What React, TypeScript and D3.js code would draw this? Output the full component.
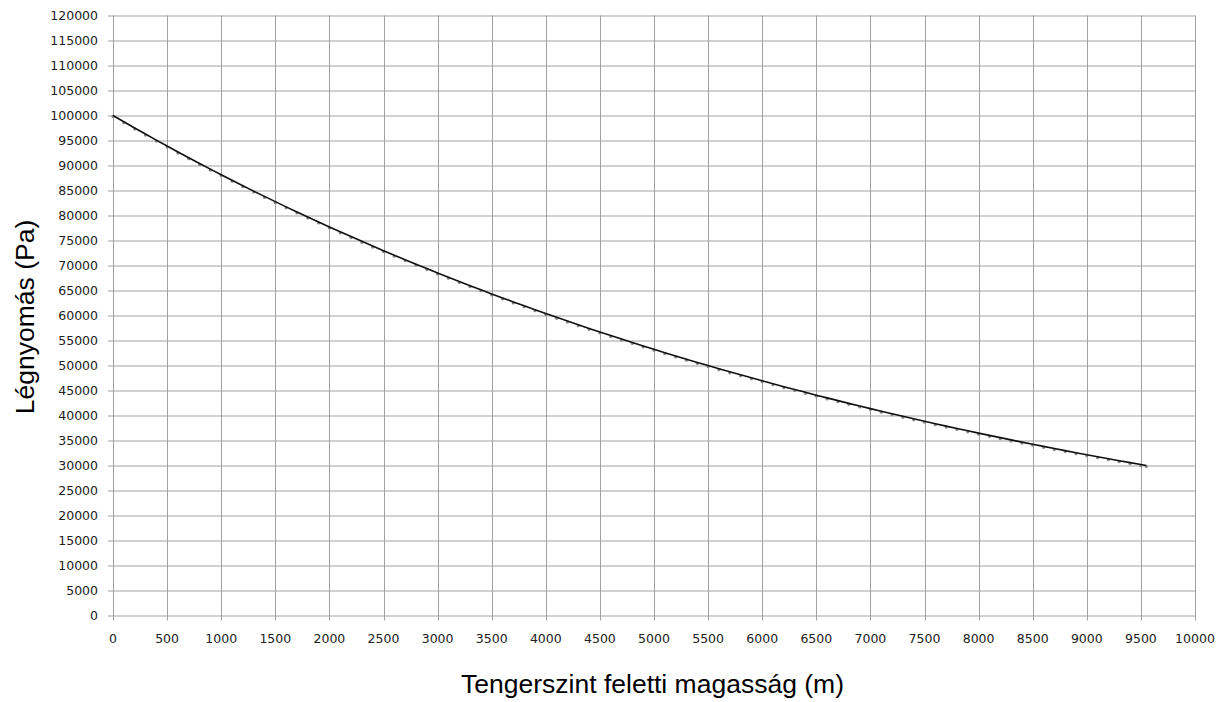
import React from 'react';
import * as d3 from 'd3';

// altitude above sea level (m) and air pressure (Pa)
const altitudes = [
  0, 100, 200, 300, 400, 500, 600, 700, 800, 900,
  1000, 1100, 1200, 1300, 1400, 1500, 1600, 1700, 1800, 1900,
  2000, 2100, 2200, 2300, 2400, 2500, 2600, 2700, 2800, 2900,
  3000, 3100, 3200, 3300, 3400, 3500, 3600, 3700, 3800, 3900,
  4000, 4100, 4200, 4300, 4400, 4500, 4600, 4700, 4800, 4900,
  5000, 5100, 5200, 5300, 5400, 5500, 5600, 5700, 5800, 5900,
  6000, 6100, 6200, 6300, 6400, 6500, 6600, 6700, 6800, 6900,
  7000, 7100, 7200, 7300, 7400, 7500, 7600, 7700, 7800, 7900,
  8000, 8100, 8200, 8300, 8400, 8500, 8600, 8700, 8800, 8900,
  9000, 9100, 9200, 9300, 9400, 9500, 9550,
];

const pressures = [
  100000, 98750, 97510, 96290, 95080, 93890, 92710, 91550, 90410, 89270,
  88160, 87050, 85960, 84880, 83820, 82770, 81730, 80710, 79700, 78700,
  77710, 76740, 75780, 74830, 73890, 72960, 72050, 71150, 70260, 69380,
  68510, 67650, 66800, 65970, 65140, 64320, 63520, 62720, 61940, 61160,
  60390, 59640, 58890, 58150, 57420, 56700, 55990, 55290, 54600, 53920,
  53240, 52570, 51910, 51260, 50620, 49990, 49360, 48740, 48130, 47530,
  46940, 46350, 45770, 45190, 44630, 44070, 43520, 42970, 42430, 41900,
  41380, 40860, 40350, 39840, 39340, 38850, 38360, 37880, 37410, 36940,
  36470, 36020, 35570, 35120, 34680, 34250, 33820, 33390, 32980, 32560,
  32150, 31750, 31350, 30960, 30570, 30190, 30000,
];

const xTicks = d3.range(0, 10001, 500);
const yTicks = d3.range(0, 120001, 5000);

const xTitle = 'Tengerszint feletti magasság (m)';
const yTitle = 'Légnyomás (Pa)';

const W = 1225;
const H = 702;
const margin = { top: 15.5, right: 30, bottom: 86.5, left: 113 };

export default function App() {
  const innerW = W - margin.left - margin.right;
  const innerH = H - margin.top - margin.bottom;

  const x = d3.scaleLinear().domain([0, 10000]).range([0, innerW]);
  const y = d3.scaleLinear().domain([0, 120000]).range([innerH, 0]);

  const points = altitudes.map((a, i) => [a, pressures[i]] as [number, number]);
  const line = d3.line<[number, number]>()
    .x(d => x(d[0]))
    .y(d => y(d[1]));

  const gridColor = '#a0a0a0';
  const tickFont = "'DejaVu Sans', Verdana, sans-serif";
  const titleFont = "'Liberation Sans', Arial, sans-serif";

  return (
    <svg width={W} height={H} style={{ position: 'absolute', left: 0, top: 0, background: '#fff' }}>
      <g transform={`translate(${margin.left},${margin.top})`}>
        {/* horizontal grid + y ticks */}
        {yTicks.map(t => (
          <g key={'y' + t}>
            <line x1={-5} x2={innerW} y1={Math.round(y(t)) + 0.5} y2={Math.round(y(t)) + 0.5}
              stroke={gridColor} strokeWidth={1} />
            <text x={-15} y={y(t)} dy="0.35em" textAnchor="end" fontFamily={tickFont}
              fontSize={12.5} fill="#222">{t}</text>
          </g>
        ))}
        {/* vertical grid + x ticks */}
        {xTicks.map(t => (
          <g key={'x' + t}>
            <line y1={0} y2={innerH + 5} x1={Math.round(x(t)) + 0.5} x2={Math.round(x(t)) + 0.5}
              stroke={gridColor} strokeWidth={1} />
            <text x={x(t)} y={innerH + 27.5} textAnchor="middle" fontFamily={tickFont}
              fontSize={12.5} fill="#222">{t}</text>
          </g>
        ))}

        {/* markers */}
        {points.map((p, i) => (
          <circle key={'m' + i} cx={x(p[0])} cy={y(p[1]) + 1} r={1.6} fill="#8a8a8a" />
        ))}
        <path d={line(points) || ''} fill="none" stroke="#111" strokeWidth={1.6} />
      </g>

      <text x={652.5} y={693} textAnchor="middle" fontFamily={titleFont}
        fontSize={26.5} fill="#000">{xTitle}</text>
      <text transform={`translate(34,317) rotate(-90)`} textAnchor="middle" fontFamily={titleFont}
        fontSize={26.5} fill="#000">{yTitle}</text>
    </svg>
  );
}
